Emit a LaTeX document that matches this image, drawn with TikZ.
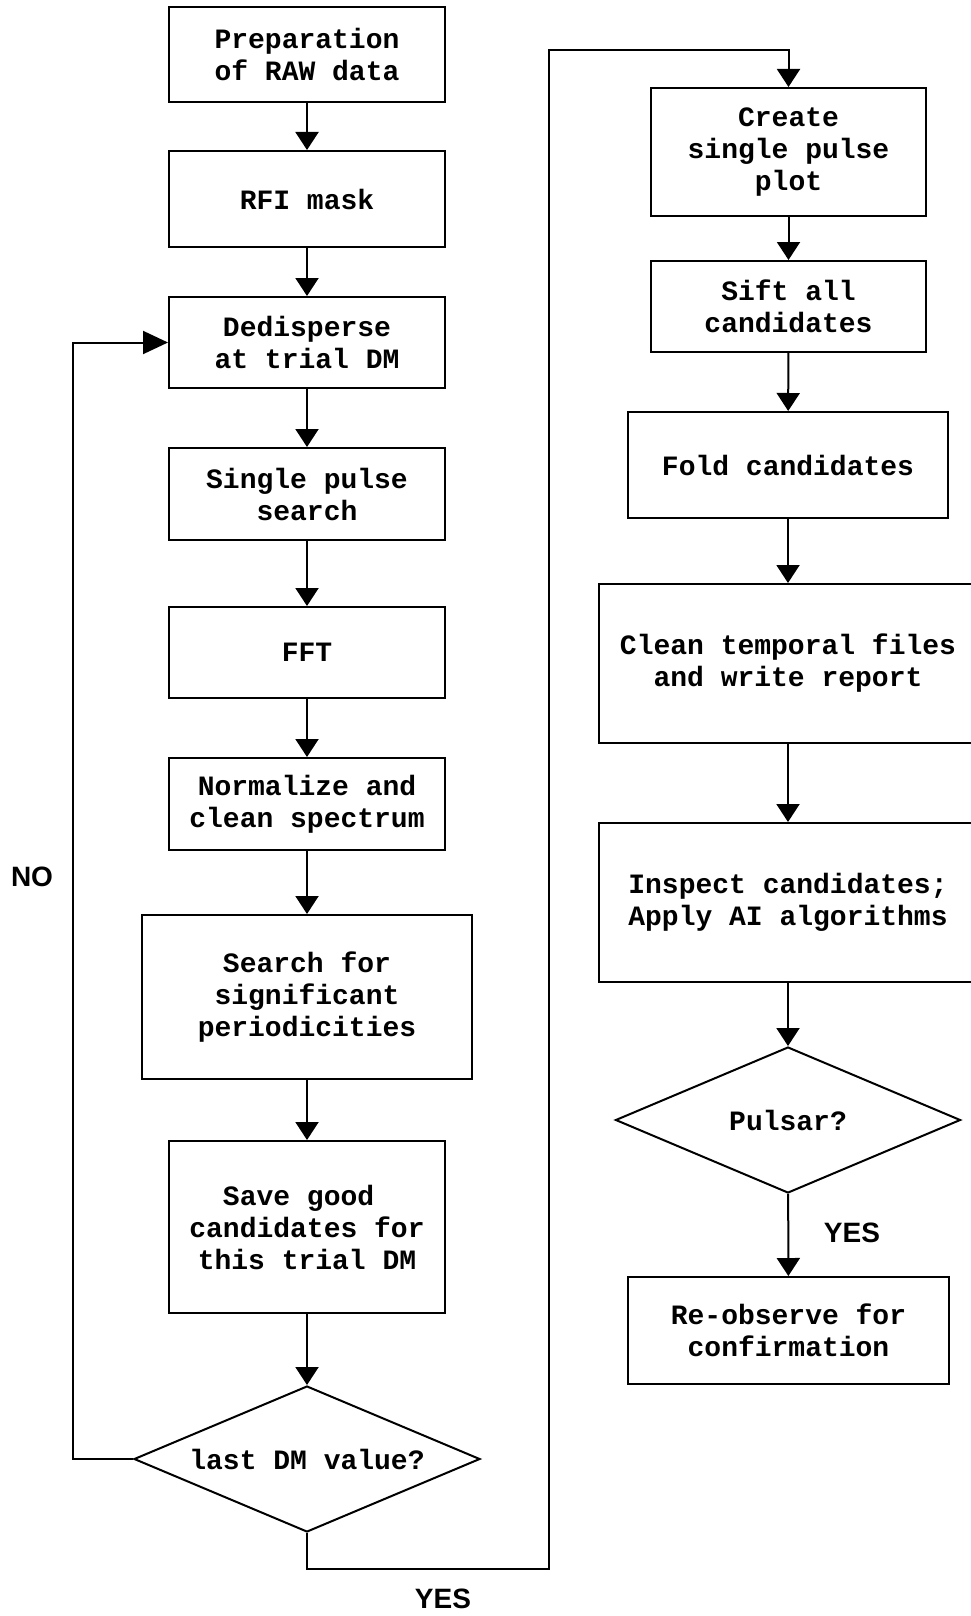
\documentclass[tikz,border=0pt]{standalone}
\usepackage{fontspec}
\usepackage{tikz}
\usetikzlibrary{shapes.geometric,arrows.meta}
\newfontfamily\boxfont{Liberation Mono}
\newfontfamily\labelfont{Liberation Sans}

\begin{document}
\begin{tikzpicture}[x=1pt, y=-1pt, line width=2pt,
  stepbox/.style={rectangle, draw=black, inner sep=0pt, align=center,
    font=\boxfont\bfseries\fontsize{28}{32}\selectfont},
  choice/.style={diamond, draw=black, inner sep=0pt, aspect=2.37, align=center,
    font=\boxfont\bfseries\fontsize{28}{32}\selectfont},
  answer/.style={font=\labelfont\bfseries\fontsize{28}{30}\selectfont},
  flow/.style={-{Triangle[length=18pt, width=23pt]}}]

\useasboundingbox (0,0) rectangle (971,1616);

% left column
\node (prep) [stepbox, minimum width=276pt, minimum height=95pt] at (307,54.5) {Preparation\\of RAW data};
\node (rfi) [stepbox, minimum width=276pt, minimum height=96pt] at (307,199) {RFI mask};
\node (dedisp) [stepbox, minimum width=276pt, minimum height=91pt] at (307,342.5) {Dedisperse\\at trial DM};
\node (spsearch) [stepbox, minimum width=276pt, minimum height=92pt] at (307,494) {Single pulse\\search};
\node (fft) [stepbox, minimum width=276pt, minimum height=91pt] at (307,652.5) {FFT};
\node (norm) [stepbox, minimum width=276pt, minimum height=92pt] at (307,804) {Normalize and\\clean spectrum};
\node (search) [stepbox, minimum width=330pt, minimum height=164pt] at (307,997) {Search for\\significant\\periodicities};
\node (save) [stepbox, minimum width=276pt, minimum height=172pt] at (307,1227) {Save good\hphantom{x}\\candidates for\\this trial DM};
\node (lastdm) [choice, minimum width=346pt, minimum height=146pt] at (307,1459) {last DM value?};

% right column
\node (create) [stepbox, minimum width=275pt, minimum height=128pt] at (788.5,152) {Create\\single pulse\\plot};
\node (sift) [stepbox, minimum width=275pt, minimum height=91pt] at (788.5,306.5) {Sift all\\candidates};
\node (fold) [stepbox, minimum width=320pt, minimum height=106pt] at (788,465) {Fold candidates};
\node (clean) [stepbox, minimum width=378pt, minimum height=159pt] at (788,663.5) {Clean temporal files\\and write report};
\node (inspect) [stepbox, minimum width=378pt, minimum height=159pt] at (788,902.5) {Inspect candidates;\\Apply AI algorithms};
\node (pulsar) [choice, minimum width=345pt, minimum height=146pt] at (788,1120) {Pulsar?};
\node (reobs) [stepbox, minimum width=321pt, minimum height=107pt] at (788.5,1330.5) {Re-observe for\\confirmation};

% labels
\node (no) [answer] at (32,877) {NO};
\node (yesdm) [answer] at (443,1599) {YES};
\node (yespsr) [answer] at (852,1233) {YES};

% connectors
\draw[flow] (prep) -- (rfi);
\draw[flow] (rfi) -- (dedisp);
\draw[flow] (dedisp) -- (spsearch);
\draw[flow] (spsearch) -- (fft);
\draw[flow] (fft) -- (norm);
\draw[flow] (norm) -- (search);
\draw[flow] (search) -- (save);
\draw[flow] (save) -- (lastdm);

\coordinate (noline) at (73,900);
\draw[-{Triangle[length=25pt, width=23pt]}] (lastdm.west) -| (noline) |- (dedisp.west);

\coordinate (yesbottom) at (549,1569);
\coordinate (yestop) at (549,50);
\draw[flow] (lastdm.south) |- (yesbottom) -- (yestop) -| (create.north);

\draw[flow] (create) -- (sift);
\draw[flow] (sift) -- (fold);
\draw[flow] (fold) -- (clean);
\draw[flow] (clean) -- (inspect);
\draw[flow] (inspect) -- (pulsar);
\draw[flow] (pulsar) -- (reobs);

\end{tikzpicture}
\end{document}
